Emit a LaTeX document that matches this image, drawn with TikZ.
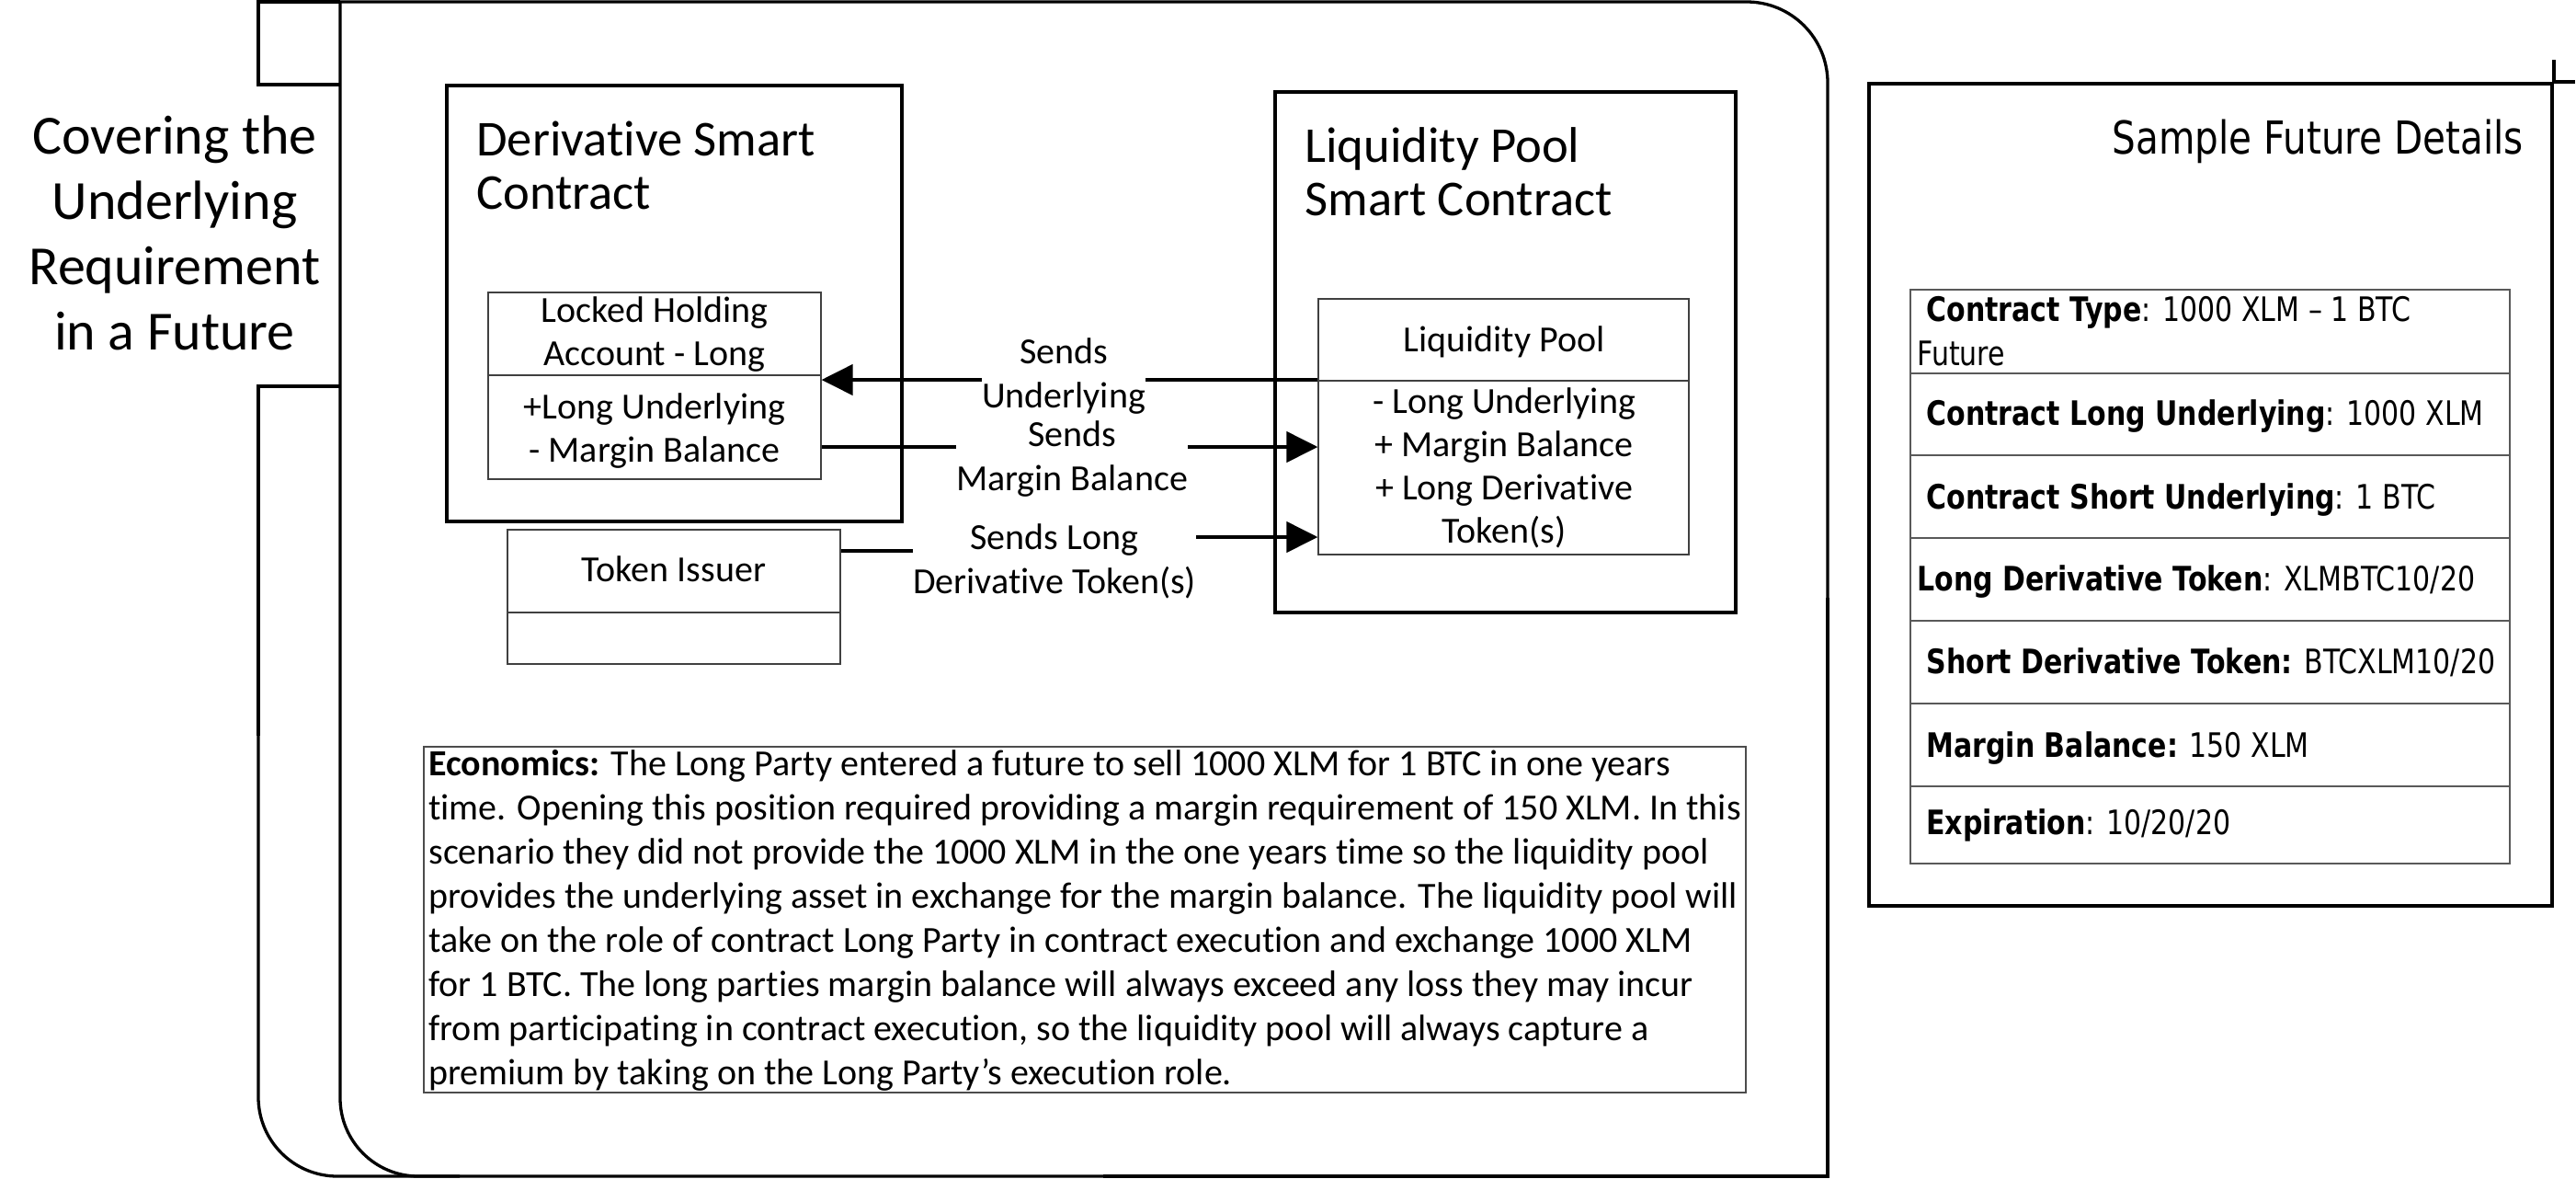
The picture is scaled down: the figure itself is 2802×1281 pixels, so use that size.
\documentclass[tikz,border=0pt]{standalone}
\usepackage{fontspec}
\setmainfont{Carlito}[Ligatures=NoCommon]
\newfontfamily\vfont[FakeStretch=0.82]{DejaVu Sans}
\usetikzlibrary{arrows.meta,calc}
\begin{document}
\begin{tikzpicture}[x=0.5pt,y=-0.5pt,
  heavy/.style={line width=1.65pt},
  thinbox/.style={draw=black!75, line width=0.6pt, inner sep=0pt},
  thinline/.style={draw=black!75, line width=0.6pt},
  txt/.style={inner sep=0pt, font=\fontsize{20pt}{23.5pt}\selectfont, align=center},
  ttlstyle/.style={inner sep=0pt, font=\fontsize{27.3pt}{29pt}\selectfont, align=left},
  lbl/.style={inner sep=0pt, fill=white, font=\fontsize{20pt}{24pt}\selectfont, align=center},
  conn/.style={line width=2.2pt},
  tip/.style={-{Triangle[length=17pt,width=16.5pt]}},
  vtxt/.style={inner sep=0pt, font=\vfont\fontsize{18.3pt}{24pt}\selectfont, align=left},
  tblrow/.style={draw=black!65, line width=0.6pt, minimum width=326pt, inner sep=0pt},
]
\useasboundingbox (0,0) rectangle (2802,1281);

% left title (base anchor = last line baseline)
\node[inner sep=0pt, font=\fontsize{30pt}{35.5pt}\selectfont, align=center, anchor=base] (maintitle) at (190,380) {Covering the\\Underlying\\Requirement\\in a Future};

% frame (bracket + rounded main box)
\draw[heavy] (370,92) -- (281,92) -- (281,2) -- (370,2);
\draw[heavy, rounded corners=44pt] (370,2) -- (1988,2) -- (1988,700);
\draw[heavy] (1988,650) -- (1988,1279) -- (1200,1279);
\draw[heavy, rounded corners=42.5pt] (1250,1279) -- (370,1279) -- (370,2);
\draw[heavy] (370,420) -- (281,420) -- (281,800);
\draw[heavy, rounded corners=43pt] (281,780) -- (281,1279) -- (500,1279);

% derivative smart contract
\node[draw, heavy, minimum width=247.5pt, minimum height=237pt, inner sep=0pt] (dsc) at (733.5,330) {};
\node[ttlstyle, anchor=base west] (dsct) at (518,227) {Derivative Smart\\Contract};

% liquidity pool smart contract
\node[draw, heavy, minimum width=250.5pt, minimum height=283pt, inner sep=0pt] (lpsc) at (1637.5,383) {};
\node[ttlstyle, anchor=base west] (lpsct) at (1419,234) {Liquidity Pool\\Smart Contract};

% locked holding account
\node[thinbox, minimum width=181pt, minimum height=101.5pt] (lh) at (712,419.5) {};
\coordinate (lhd) at (0,408);
\draw[thinline] (lh.west |- lhd) -- (lh.east |- lhd);
\node[txt, anchor=base] (lht) at (712,397) {Locked Holding\\Account - Long};
\node[txt, anchor=base] (lhb) at (712,502) {+Long Underlying\\- Margin Balance};

% liquidity pool
\node[thinbox, minimum width=201.5pt, minimum height=139pt] (lp) at (1635.5,464) {};
\coordinate (lpd) at (0,414);
\draw[thinline] (lp.west |- lpd) -- (lp.east |- lpd);
\node[txt, anchor=base] (lpt) at (1636,382) {Liquidity Pool};
\node[txt, anchor=base] (lpb) at (1636,590) {- Long Underlying\\+ Margin Balance\\+ Long Derivative\\Token(s)};

% token issuer
\node[thinbox, minimum width=181pt, minimum height=73pt] (ti) at (733,649) {};
\coordinate (tid) at (0,666);
\draw[thinline] (ti.west |- tid) -- (ti.east |- tid);
\node[txt, anchor=base] (tit) at (733,632) {Token Issuer};

% connectors
\coordinate (ya) at (0,413);
\coordinate (yb) at (0,486);
\coordinate (yc) at (0,599);
\coordinate (yd) at (0,584);
\draw[conn, tip] (lp.west |- ya) -- (lh.east |- ya);
\draw[conn, tip] (lh.east |- yb) -- (lp.west |- yb);
\draw[conn, tip] (ti.east |- yc) -- ++(232,0) |- (lp.west |- yd);
\node[lbl, anchor=base] (l1) at (1157,443) {Sends\\Underlying};
\node[lbl, anchor=base] (l2) at (1166,533) {Sends\\Margin Balance};
\node[lbl, anchor=base] (l3) at (1147,645) {Sends Long\\Derivative Token(s)};

% economics
\node[draw=black!70, line width=0.7pt, minimum width=719pt, minimum height=188pt, inner sep=0pt] (eco) at (1180,1000) {};
\node[inner sep=0pt, anchor=base west, align=left, font=\fontsize{20pt}{24pt}\selectfont] (ecot) at (466,1179) {\textbf{Economics:} The Long Party entered a future to sell 1000 XLM for 1 BTC in one years\\
time. Opening this position required providing a margin requirement of 150 XLM. In this\\
scenario they did not provide the 1000 XLM in the one years time so the liquidity pool\\
provides the underlying asset in exchange for the margin balance. The liquidity pool will\\
take on the role of contract Long Party in contract execution and exchange 1000 XLM\\
for 1 BTC. The long parties margin balance will always exceed any loss they may incur\\
from participating in contract execution, so the liquidity pool will always capture a\\
premium by taking on the Long Party’s execution role.};

% sample future details
\node[draw, line width=1.8pt, minimum width=371.5pt, minimum height=447pt, inner sep=0pt] (sfd) at (2404.5,538) {};
\draw[line width=1.8pt] (sfd.north east) -- ++(0,-24);
\draw[line width=1.8pt] (sfd.north east) -- ++(23,0);
\node[inner sep=0pt, font=\vfont\fontsize{24.7pt}{30pt}\selectfont, anchor=base east] (sfdt) at (2745,167) {Sample Future Details};

\node[tblrow, minimum height=45.5pt] (r1) at (2404,360.5) {};
\node[tblrow, minimum height=44.5pt] (r2) at (2404,450.5) {};
\node[tblrow, minimum height=45pt] (r3) at (2404,540) {};
\node[tblrow, minimum height=45pt] (r4) at (2404,630) {};
\node[tblrow, minimum height=45pt] (r5) at (2404,720) {};
\node[tblrow, minimum height=45pt] (r6) at (2404,810) {};
\node[tblrow, minimum height=42pt] (r7) at (2404,897) {};

\node[vtxt, anchor=base west] (t1) at (2085,397) {\hspace*{5pt}\textbf{Contract Type}: 1000 XLM – 1 BTC\\Future};
\node[vtxt, anchor=base west] (t2) at (2095,462) {\textbf{Contract Long Underlying}: 1000 XLM};
\node[vtxt, anchor=base west] (t3) at (2095,553) {\textbf{Contract Short Underlying}: 1 BTC};
\node[vtxt, anchor=base west] (t4) at (2085,642) {\textbf{Long Derivative Token}: XLMBTC10/20};
\node[vtxt, anchor=base west] (t5) at (2095,732) {\textbf{Short Derivative Token:} BTCXLM10/20};
\node[vtxt, anchor=base west] (t6) at (2095,823) {\textbf{Margin Balance:} 150 XLM};
\node[vtxt, anchor=base west] (t7) at (2095,907) {\textbf{Expiration}: 10/20/20};
\end{tikzpicture}
\end{document}
